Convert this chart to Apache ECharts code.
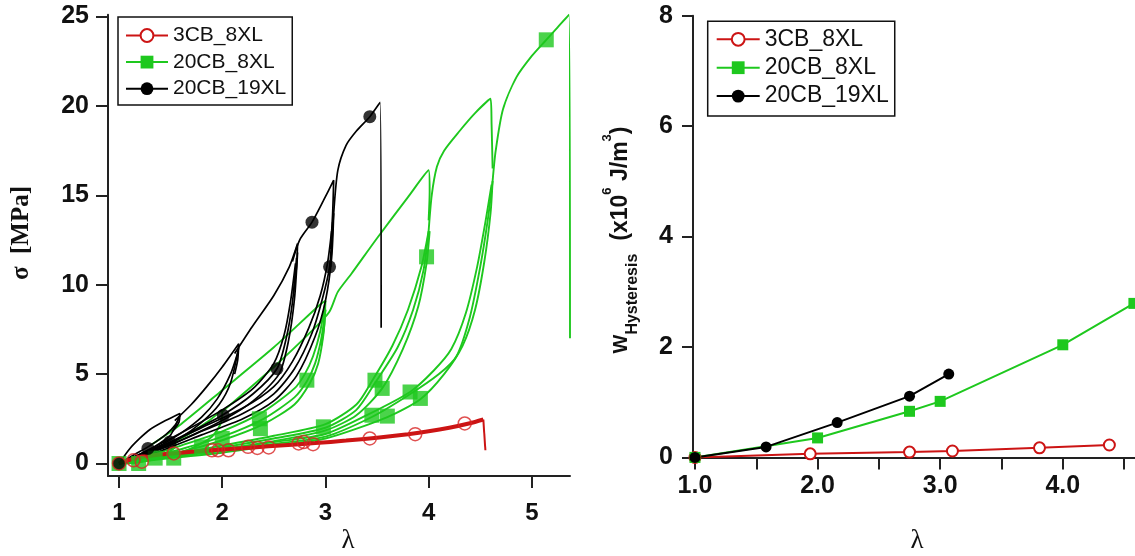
<!DOCTYPE html>
<html><head><meta charset="utf-8">
<script src="https://cdn.jsdelivr.net/npm/echarts@6/dist/echarts.min.js"></script>
<style>html,body{margin:0;padding:0;background:#fff}#c{width:1135px;height:556px}</style>
</head><body><div id="c"></div>
<script>
// ---------- names ----------
var seriesNames = ['3CB_8XL', '20CB_8XL', '20CB_19XL'];
// ---------- tick values ----------
var leftXTicks = [1, 2, 3, 4, 5];
var leftYTicks = [0, 5, 10, 15, 20, 25];
var rightXLabels = [1, 2, 3, 4];
var rightXTicks = [1, 1.5, 2, 2.5, 3, 3.5, 4, 4.5];
var rightYTicks = [0, 2, 4, 6, 8];

// ---------- right chart: W_hysteresis vs lambda ----------
var wRed = [[1.0, 0], [1.94, 0.064], [2.75, 0.096], [3.10, 0.116], [3.81, 0.173], [4.38, 0.225]];
var wGreen = [[1.0, 0], [2.0, 0.353], [2.75, 0.835], [3.0, 1.015], [4.0, 2.04], [4.58, 2.79]];
var wBlack = [[1.0, 0], [1.58, 0.19], [2.16, 0.63], [2.75, 1.11], [3.07, 1.51]];

// ---------- left chart: markers ----------
var mRed = [[1.0, 0], [1.14, 0.18], [1.22, 0.1], [1.53, 0.56], [1.90, 0.74], [1.96, 0.74], [2.06, 0.74], [2.25, 0.93], [2.34, 0.87], [2.45, 0.9], [2.74, 1.12], [2.79, 1.2], [2.88, 1.08], [3.43, 1.4], [3.87, 1.64], [4.35, 2.24]];
var mGreen = [[1.0, 0], [1.19, 0], [1.35, 0.3], [1.53, 0.3], [1.80, 0.93], [2.0, 1.4], [2.36, 2.5], [2.37, 1.95], [2.82, 4.66], [2.98, 2.05], [3.45, 2.7], [3.48, 4.66], [3.55, 4.2], [3.60, 2.65], [3.82, 4.0], [3.92, 3.64], [3.98, 11.56], [5.14, 23.7]];
var mBlack = [[1.0, 0], [1.28, 0.84], [1.49, 1.2], [2.01, 2.7], [2.53, 5.3], [2.87, 13.5], [3.04, 11.0], [3.43, 19.4]];

// ---------- left chart: red curves ----------
var rMain = [[1.0, 0], [1.1, 0.2], [1.2, 0.35], [1.4, 0.5], [1.6, 0.6], [1.8, 0.7], [2.0, 0.78], [2.3, 0.9], [2.6, 1.02], [2.9, 1.14], [3.2, 1.28], [3.5, 1.44], [3.8, 1.64], [4.0, 1.8], [4.2, 2.0], [4.4, 2.25], [4.53, 2.46]];
var rDrop = [[4.53, 2.46], [4.55, 0.74]];

// ---------- left chart: green curves ----------
var gLoop15 = [[1.0, 0], [1.2, 0.35], [1.4, 0.85], [1.55, 1.3], [1.54, 0.9], [1.45, 0.55], [1.3, 0.22], [1.15, 0.04], [1.08, 0]];
var gLoop20 = [[1.0, 0], [1.3, 0.6], [1.6, 1.4], [1.85, 2.3], [2.0, 3.0], [1.99, 2.3], [1.9, 1.5], [1.7, 0.85], [1.5, 0.45], [1.3, 0.18], [1.12, 0]];
var gVirgin3 = [[1.3, 1.0], [1.6, 2.2], [2.0, 4.1], [2.5, 6.5], [2.93, 8.8], [3.0, 9.1], [2.99, 7.8], [2.96, 6.6]];
var gVirgin4 = [[2.0, 2.9], [2.5, 5.4], [2.9, 7.6], [3.04, 8.5], [3.12, 9.6], [3.25, 10.6], [3.5, 12.6], [3.8, 14.9], [4.0, 16.4], [4.01, 15.2], [4.0, 13.6]];
var gVirgin46 = [[4.0, 13.0], [4.03, 15.0], [4.08, 16.6], [4.15, 17.5], [4.3, 18.6], [4.45, 19.6], [4.6, 20.4], [4.61, 19.0], [4.62, 16.5]];
var gFinal = [[4.62, 15.8], [4.65, 17.5], [4.72, 19.8], [4.85, 21.6], [5.0, 22.8], [5.14, 23.7], [5.25, 24.4], [5.36, 25.1], [5.37, 7.0]];
var gB3a = [[1.0, 0], [1.3, 0.35], [1.6, 0.8], [2.0, 1.5], [2.4, 2.5], [2.7, 3.7], [2.82, 4.6], [2.9, 5.6], [2.96, 7.0], [3.0, 8.6]];
var gB3b = [[1.05, 0], [1.3, 0.25], [1.6, 0.65], [2.0, 1.3], [2.4, 2.2], [2.7, 3.3], [2.85, 4.5], [2.93, 5.6], [2.98, 7.2], [3.0, 8.6]];
var gB3c = [[1.0, 0], [1.3, 0.45], [1.6, 1.0], [2.0, 1.8], [2.4, 2.9], [2.7, 4.2], [2.8, 5.0], [2.88, 6.0], [2.95, 7.4], [3.0, 9.1]];
var gB4a = [[1.0, 0], [1.5, 0.45], [2.0, 0.9], [2.5, 1.4], [3.0, 2.0], [3.3, 3.0], [3.48, 4.5], [3.7, 6.5], [3.85, 8.6], [3.95, 10.8], [4.0, 13.0]];
var gB4b = [[1.05, 0], [1.5, 0.4], [2.0, 0.8], [2.5, 1.25], [3.0, 1.85], [3.3, 2.7], [3.55, 4.2], [3.75, 6.4], [3.9, 8.8], [3.98, 11.2], [4.01, 13.0]];
var gB4c = [[1.0, 0], [1.5, 0.5], [2.0, 1.0], [2.5, 1.55], [3.0, 2.2], [3.3, 3.3], [3.45, 4.6], [3.65, 6.6], [3.8, 8.6], [3.93, 11.0], [4.0, 13.0]];
var gB46a = [[1.0, 0], [1.5, 0.35], [2.0, 0.7], [2.5, 1.1], [3.0, 1.5], [3.45, 2.6], [3.8, 3.8], [4.1, 5.0], [4.27, 6.0], [4.4, 8.2], [4.5, 11.0], [4.57, 13.5], [4.62, 15.8]];
var gB46b = [[1.05, 0], [1.5, 0.3], [2.0, 0.6], [2.5, 1.0], [3.0, 1.4], [3.6, 2.6], [3.92, 3.6], [4.15, 5.0], [4.33, 6.6], [4.45, 8.6], [4.54, 11.3], [4.6, 14.0], [4.62, 15.8]];
var gB46c = [[1.0, 0], [1.5, 0.4], [2.0, 0.8], [2.5, 1.2], [3.0, 1.65], [3.4, 2.7], [3.82, 4.0], [4.05, 5.2], [4.22, 6.4], [4.36, 8.4], [4.47, 11.0], [4.55, 13.5], [4.61, 15.6]];

// ---------- left chart: black curves ----------
var kVirgin1 = [[1.0, 0], [1.1, 0.8], [1.2, 1.4], [1.3, 1.9], [1.45, 2.4], [1.59, 2.8], [1.58, 2.3], [1.52, 1.8]];
var kLoop1a = [[1.0, 0], [1.15, 0.5], [1.3, 1.0], [1.45, 1.6], [1.55, 2.2], [1.59, 2.7]];
var kLoop1b = [[1.59, 2.7], [1.5, 1.6], [1.4, 1.15], [1.3, 0.8], [1.2, 0.5], [1.1, 0.2], [1.04, 0]];
var kVirgin2 = [[1.54, 2.4], [1.7, 3.3], [1.85, 4.3], [2.0, 5.4], [2.16, 6.7], [2.15, 5.8], [2.12, 5.0]];
var kLoop2a = [[1.0, 0], [1.2, 0.5], [1.4, 1.0], [1.6, 1.7], [1.8, 2.6], [1.95, 3.6], [2.08, 5.0], [2.15, 6.2]];
var kLoop2b = [[1.02, 0], [1.2, 0.4], [1.4, 0.85], [1.6, 1.45], [1.8, 2.3], [1.97, 3.3], [2.08, 4.5], [2.16, 6.5]];
var kVirgin3 = [[2.12, 6.15], [2.29, 7.65], [2.5, 9.4], [2.65, 11.0], [2.73, 12.3], [2.72, 11.0], [2.69, 9.5]];
var kLoop3a = [[1.0, 0], [1.3, 0.7], [1.6, 1.5], [2.0, 2.7], [2.3, 3.9], [2.53, 5.3], [2.62, 7.0], [2.68, 9.0], [2.72, 11.5]];
var kLoop3b = [[1.0, 0], [1.3, 0.6], [1.6, 1.3], [2.0, 2.4], [2.3, 3.5], [2.55, 5.0], [2.64, 6.8], [2.7, 9.2], [2.73, 11.8]];
var kLoop3c = [[1.02, 0], [1.3, 0.8], [1.6, 1.7], [2.0, 3.0], [2.3, 4.2], [2.5, 5.6], [2.6, 7.2], [2.66, 9.0], [2.71, 11.2]];
var kVirgin4 = [[2.68, 11.3], [2.75, 12.5], [2.87, 13.5], [2.98, 14.7], [3.08, 15.85], [3.07, 14.0], [3.05, 12.0]];
var kLoop4a = [[1.0, 0], [1.4, 0.8], [1.8, 1.8], [2.2, 2.8], [2.5, 3.9], [2.7, 5.3], [2.87, 7.3], [2.97, 9.2], [3.04, 11.0], [3.07, 13.5]];
var kLoop4b = [[1.0, 0], [1.4, 0.7], [1.8, 1.6], [2.2, 2.5], [2.5, 3.5], [2.72, 4.9], [2.9, 7.1], [3.0, 9.1], [3.06, 11.5], [3.08, 14.0]];
var kLoop4c = [[1.03, 0], [1.4, 0.9], [1.8, 2.0], [2.2, 3.1], [2.5, 4.3], [2.68, 5.7], [2.84, 7.6], [2.95, 9.4], [3.02, 11.2], [3.06, 13.0]];
var kFinal = [[3.05, 11.0], [3.08, 14.0], [3.12, 16.4], [3.2, 17.8], [3.3, 18.6], [3.43, 19.4], [3.53, 20.2], [3.54, 7.6]];

// ---------- colours ----------
var RED = '#cc1414', GREEN = '#1ec81e', BLACK = '#000000';

var greenCurves = [gLoop15, gLoop20, gB3a, gB3b, gB3c, gB4a, gB4b, gB4c, gB46a, gB46b, gB46c, gVirgin3, gVirgin4, gVirgin46, gFinal];
var blackCurves = [kVirgin1, kLoop1a, kLoop1b, kVirgin2, kLoop2a, kLoop2b, kVirgin3, kLoop3a, kLoop3b, kLoop3c, kVirgin4, kLoop4a, kLoop4b, kLoop4c, kFinal];

function curve(data, color, width, id) {
  return {
    type: 'line', name: id, xAxisIndex: 0, yAxisIndex: 0, data: data,
    showSymbol: false, symbol: 'none', smooth: 0.25, silent: true,
    lineStyle: { color: color, width: width }, z: 2
  };
}

var series = [];
// right chart first so that legend icons come from these
series.push({ type: 'line', name: seriesNames[0], xAxisIndex: 1, yAxisIndex: 1, data: wRed, symbol: 'emptyCircle', symbolSize: 11,
  lineStyle: { color: RED, width: 2 }, itemStyle: { color: RED, borderWidth: 1.5 }, z: 3 });
series.push({ type: 'line', name: seriesNames[1], xAxisIndex: 1, yAxisIndex: 1, data: wGreen, symbol: 'rect', symbolSize: 11,
  lineStyle: { color: GREEN, width: 2 }, itemStyle: { color: GREEN }, z: 3 });
series.push({ type: 'line', name: seriesNames[2], xAxisIndex: 1, yAxisIndex: 1, data: wBlack, symbol: 'circle', symbolSize: 11,
  lineStyle: { color: BLACK, width: 2 }, itemStyle: { color: BLACK }, z: 3 });

greenCurves.forEach(function (d, i) { series.push(curve(d, GREEN, 1.9, 'g' + i)); });
blackCurves.forEach(function (d, i) { series.push(curve(d, BLACK, 1.7, 'k' + i)); });
series.push(curve(rMain, RED, 4, 'r0'));
series.push(curve(rDrop, RED, 2, 'r1'));

series.push({ type: 'scatter', name: seriesNames[1], xAxisIndex: 0, yAxisIndex: 0, data: mGreen, symbol: 'rect', symbolSize: 15,
  itemStyle: { color: GREEN }, z: 4 });
series.push({ type: 'scatter', name: seriesNames[2], xAxisIndex: 0, yAxisIndex: 0, data: mBlack, symbol: 'circle', symbolSize: 13,
  itemStyle: { color: BLACK }, z: 4 });
series.push({ type: 'scatter', name: seriesNames[0], xAxisIndex: 0, yAxisIndex: 0, data: mRed, symbol: 'circle', symbolSize: 13,
  itemStyle: { color: 'rgba(0,0,0,0)', borderColor: '#d82424', borderWidth: 1.5 }, z: 5 });

var axisLine = { show: true, onZero: false, lineStyle: { color: '#222', width: 2 } };
var tickStyle = { color: '#222', width: 2 };
var labelFont = { fontFamily: 'Liberation Sans', fontWeight: 'bold', color: '#111' };

var option = {
  animation: false,
  backgroundColor: '#fff',
  grid: [
    { left: 108, top: 14.8, right: 565, bottom: 80, outerBoundsMode: 'none', containLabel: false },
    { left: 693, top: 15.8, right: 0, bottom: 98.6, outerBoundsMode: 'none', containLabel: false }
  ],
  xAxis: [
    { gridIndex: 0, type: 'value', min: 0.893, max: 5.37, axisLine: axisLine,
      axisTick: { show: true, length: 12, lineStyle: tickStyle, customValues: leftXTicks },
      axisLabel: Object.assign({ customValues: leftXTicks, margin: 25, fontSize: 24 }, labelFont),
      splitLine: { show: false } },
    { gridIndex: 1, type: 'value', min: 0.984, max: 4.589, axisLine: axisLine,
      axisTick: { show: true, length: 12, lineStyle: tickStyle, customValues: rightXTicks },
      axisLabel: Object.assign({ customValues: rightXLabels, margin: 16, fontSize: 25,
        formatter: function (v) { return Number(v).toFixed(1); } }, labelFont),
      splitLine: { show: false } }
  ],
  yAxis: [
    { gridIndex: 0, type: 'value', min: -0.7, max: 25.1, axisLine: axisLine,
      axisTick: { show: true, length: 12, lineStyle: tickStyle, customValues: leftYTicks },
      axisLabel: Object.assign({ customValues: leftYTicks, margin: 19, fontSize: 25 }, labelFont),
      splitLine: { show: false } },
    { gridIndex: 1, type: 'value', min: 0, max: 8, axisLine: axisLine,
      axisTick: { show: true, length: 11, lineStyle: tickStyle, customValues: rightYTicks },
      axisLabel: Object.assign({ customValues: rightYTicks, margin: 20, fontSize: 25 }, labelFont),
      splitLine: { show: false } }
  ],
  legend: [
    { data: seriesNames, orient: 'vertical', left: 118, top: 17, padding: [7.5, 6, 5.3, 7],
      itemWidth: 42, itemHeight: 16, itemGap: 4.6, selectedMode: false,
      textStyle: { fontSize: 21, lineHeight: 22, fontFamily: 'Liberation Sans', color: '#111' },
      borderColor: '#111', borderWidth: 1.5, backgroundColor: '#fff', borderRadius: 0 },
    { data: seriesNames, orient: 'vertical', left: 707.7, top: 21.3, padding: [6, 6, 8, 8],
      itemWidth: 43, itemHeight: 16, itemGap: 4.4, selectedMode: false,
      textStyle: { fontSize: 23, lineHeight: 24, fontFamily: 'Liberation Sans', color: '#111' },
      borderColor: '#111', borderWidth: 1.5, backgroundColor: '#fff', borderRadius: 0 }
  ],
  graphic: [
    { type: 'text', x: 22, y: 233, rotation: Math.PI / 2, silent: true,
      style: { text: 'σ  [MPa]', font: 'bold 25px "Liberation Serif"', fill: '#111', align: 'center', verticalAlign: 'middle' } },
    { type: 'text', x: 348, y: 541, silent: true,
      style: { text: 'λ', font: '27px "Liberation Serif"', fill: '#111', align: 'center', verticalAlign: 'middle' } },
    { type: 'text', x: 917, y: 541, silent: true,
      style: { text: 'λ', font: '27px "Liberation Serif"', fill: '#111', align: 'center', verticalAlign: 'middle' } },
    { type: 'text', x: 621, y: 240, rotation: Math.PI / 2, silent: true,
      style: {
        text: '{w|W}{s|Hysteresis}{g| }{m|(x10}{p|6}{m| J/m}{p|3}{m|)}',
        align: 'center', verticalAlign: 'middle',
        rich: {
          w: { fontSize: 20, fontWeight: 'bold', fontFamily: 'Liberation Sans', fill: '#111', lineHeight: 40, verticalAlign: 'middle' },
          s: { fontSize: 16, fontWeight: 'bold', fontFamily: 'Liberation Sans', fill: '#111', lineHeight: 16, verticalAlign: 'bottom' },
          g: { fontSize: 13, width: 13, lineHeight: 13 },
          m: { fontSize: 23, fontWeight: 'bold', fontFamily: 'Liberation Sans', fill: '#111', lineHeight: 40, verticalAlign: 'middle' },
          p: { fontSize: 13, fontWeight: 'bold', fontFamily: 'Liberation Sans', fill: '#111', lineHeight: 14, verticalAlign: 'top' }
        }
      } }
  ],
  series: series
};

var chart = echarts.init(document.getElementById('c'), null, { renderer: 'canvas' });
chart.setOption(option);
</script></body></html>
